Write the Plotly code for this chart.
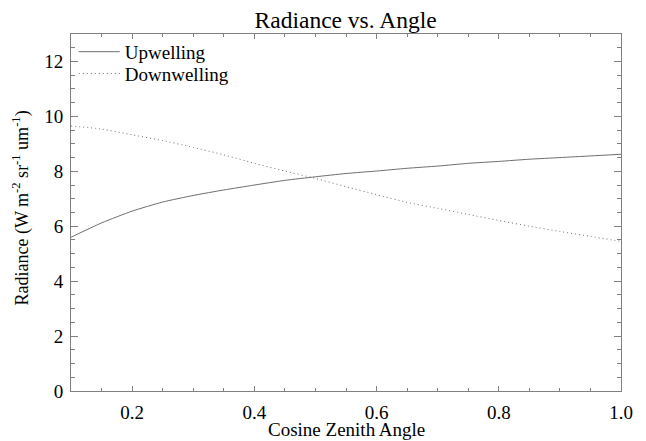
import plotly.graph_objects as go

# Cosine of the zenith angle
mu = [0.10, 0.15, 0.20, 0.25, 0.30, 0.35, 0.40, 0.45, 0.50, 0.55,
      0.60, 0.65, 0.70, 0.75, 0.80, 0.85, 0.90, 0.95, 1.00]

# Radiance (W m-2 sr-1 um-1)
upwelling = [5.60, 6.12, 6.55, 6.88, 7.12, 7.32, 7.50, 7.67, 7.80, 7.92,
             8.01, 8.11, 8.19, 8.29, 8.36, 8.44, 8.50, 8.56, 8.62]
downwelling = [9.65, 9.54, 9.33, 9.12, 8.87, 8.60, 8.29, 8.01, 7.74, 7.44,
               7.15, 6.87, 6.65, 6.43, 6.21, 6.00, 5.81, 5.63, 5.45]

x_ticks = [0.2, 0.4, 0.6, 0.8, 1.0]
x_tick_text = ["0.2", "0.4", "0.6", "0.8", "1.0"]
y_ticks = [0, 2, 4, 6, 8, 10, 12]
y_tick_text = ["0", "2", "4", "6", "8", "10", "12"]

FONT = "Liberation Serif"
AXIS_COLOR = "#808080"
LINE_COLOR = "#6e6e6e"


def serif(size, family=FONT):
    return dict(family=family, size=size, color="black")


fig = go.Figure()
fig.add_trace(go.Scatter(
    x=mu, y=upwelling, mode="lines", name="Upwelling", legend="legend",
    line=dict(color=LINE_COLOR, width=1, shape="spline", smoothing=0.6),
))
fig.add_trace(go.Scatter(
    x=mu, y=downwelling, mode="lines", name="Downwelling", legend="legend2",
    line=dict(color=LINE_COLOR, width=1, dash="1px,3px", shape="spline", smoothing=0.6),
))

legend_style = dict(xanchor="left", yanchor="middle", bgcolor="rgba(0,0,0,0)",
                    borderwidth=0, font=serif(19), itemwidth=41)

fig.update_layout(
    template="none",
    width=646, height=441,
    margin=dict(l=71, r=25, t=34, b=50, autoexpand=False),
    paper_bgcolor="white", plot_bgcolor="white",
    font=serif(18),
    title=dict(text="Radiance vs. Angle", x=0.535, xanchor="center",
               y=0.974, yanchor="top", font=serif(23.5)),
    showlegend=True,
    legend=dict(x=0.005, y=0.95, **legend_style),
    legend2=dict(x=0.005, y=0.889, **legend_style),
    xaxis=dict(
        range=[0.1, 1.0], tickvals=x_ticks, ticktext=x_tick_text,
        showgrid=False, zeroline=False, showline=True, linecolor=AXIS_COLOR,
        linewidth=1, mirror="ticks", ticks="inside", ticklen=5, tickwidth=1,
        tickcolor=AXIS_COLOR, tickfont=serif(19), ticklabelstandoff=4,
        automargin=False,
        minor=dict(dtick=0.05, ticks="inside", ticklen=3, tickcolor=AXIS_COLOR,
                   showgrid=False),
    ),
    yaxis=dict(
        range=[0, 13], tickvals=y_ticks, ticktext=y_tick_text,
        showgrid=False, zeroline=False, showline=True, linecolor=AXIS_COLOR,
        linewidth=1, mirror="ticks", ticks="inside", ticklen=7, tickwidth=1,
        tickcolor=AXIS_COLOR, tickfont=serif(19), ticklabelstandoff=3,
        automargin=False,
        minor=dict(dtick=0.5, ticks="inside", ticklen=4, tickcolor=AXIS_COLOR,
                   showgrid=False),
    ),
    annotations=[
        dict(text="Cosine Zenith Angle", xref="paper", yref="paper",
             x=0.5, y=0, xanchor="center", yanchor="middle", yshift=-38,
             showarrow=False, font=serif(19)),
        dict(text="Radiance (W m<sup>-2</sup> sr<sup>-1</sup> um<sup>-1</sup>)",
             xref="paper", yref="paper", x=0, y=0.5, xanchor="right",
             yanchor="middle", xshift=-36, yshift=4, textangle=-90,
             showarrow=False, font=serif(18)),
    ],
)

fig.write_html("out.html")
